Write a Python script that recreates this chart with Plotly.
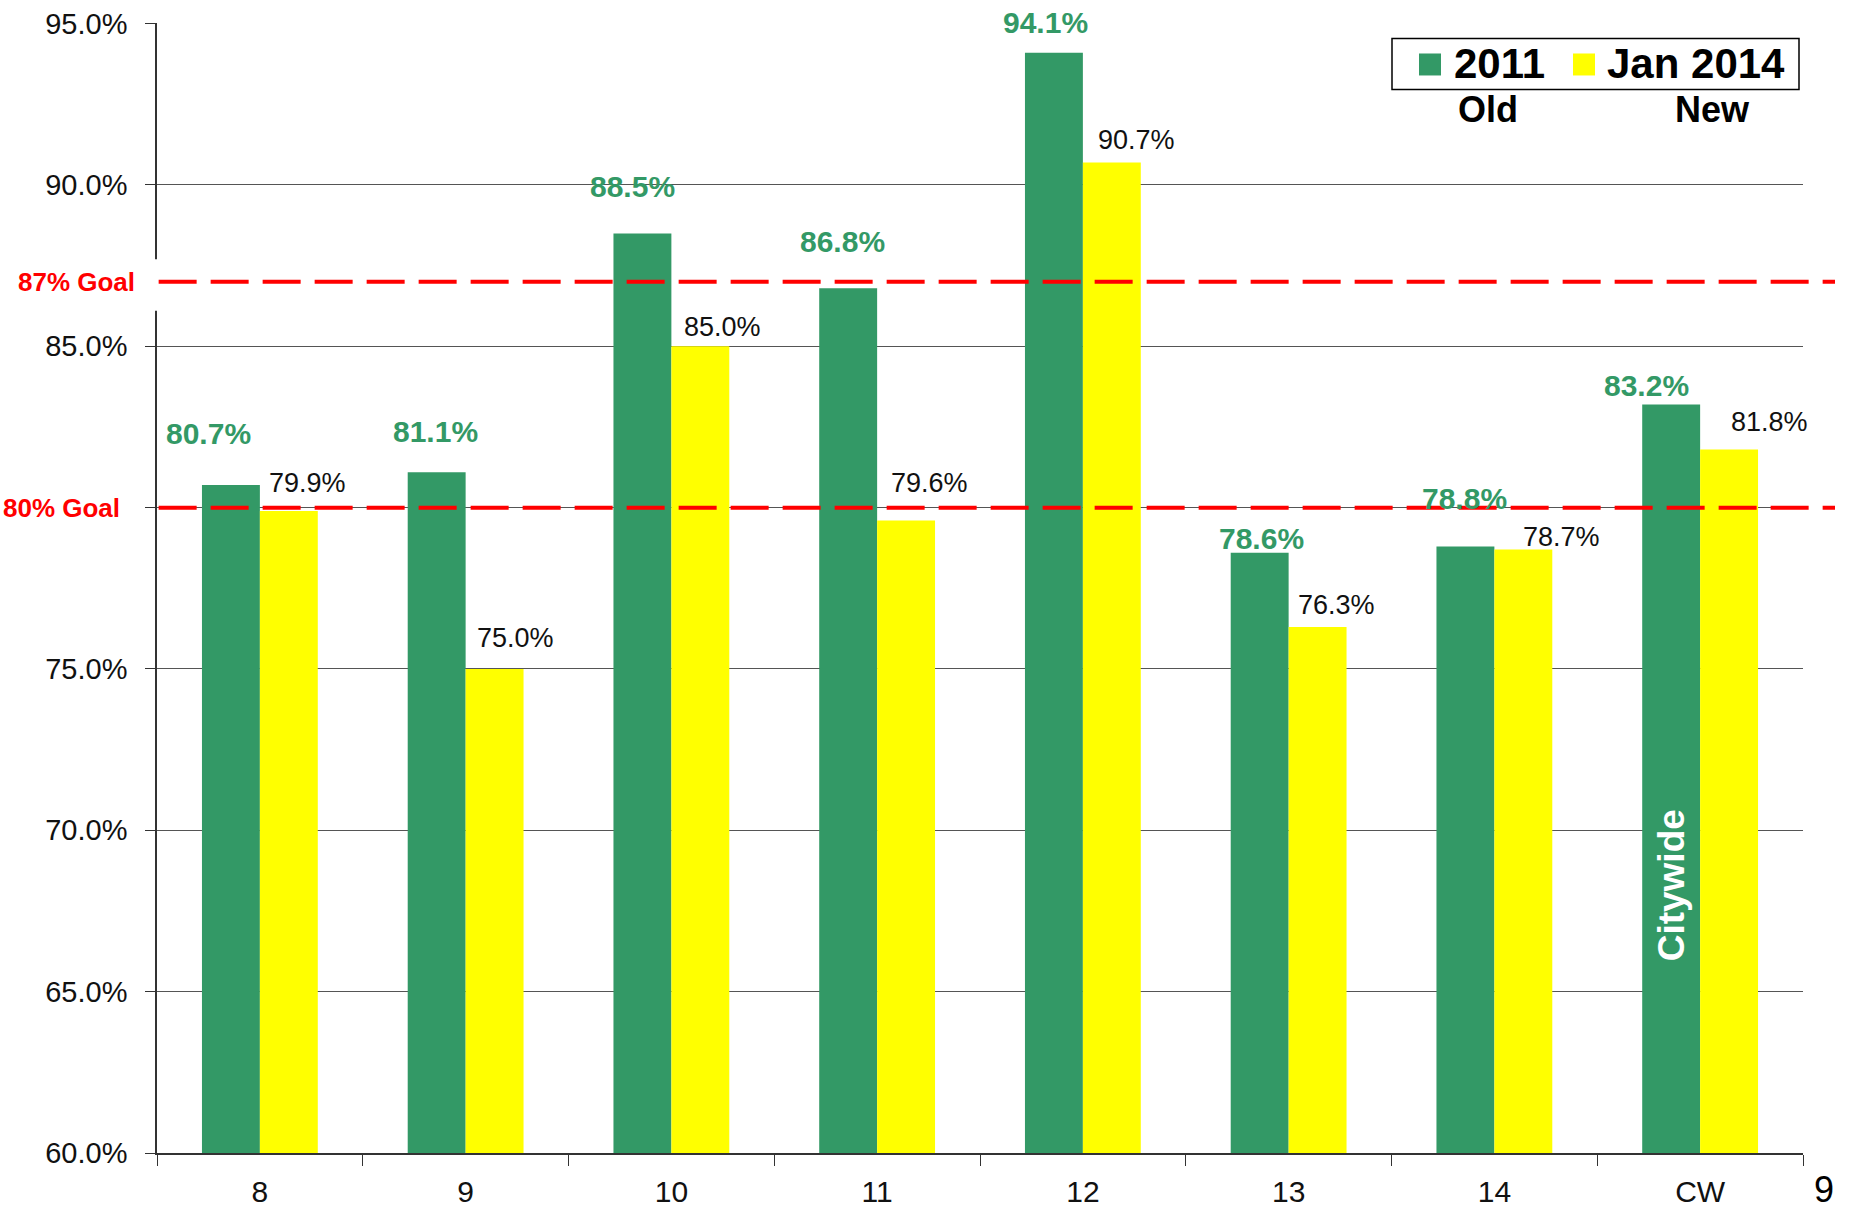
import plotly.graph_objects as go

categories = ["8", "9", "10", "11", "12", "13", "14", "CW"]
old_2011 = [80.7, 81.1, 88.5, 86.8, 94.1, 78.6, 78.8, 83.2]
new_jan2014 = [79.9, 75.0, 85.0, 79.6, 90.7, 76.3, 78.7, 81.8]
series_names = ["2011", "Jan 2014"]
series_captions = ["Old", "New"]
goals = [87, 80]
goal_labels = ["87% Goal", "80% Goal"]
y_ticks = [60, 65, 70, 75, 80, 85, 90, 95]
slide_number = "9"

# label placement (pixels, relative to category centre / bar top) - style only
green_dx = [-51, -30, -39, -35, -37, -27, -30, -54]
green_dy = [52, 41, 47, 47, 30, 14, 48, 19]
yellow_dx = [48, 50, 51, 52, 54, 48, 67, 69]
yellow_dy = [28, 31, 19, 38, 22, 22, 13, 28]

GREEN = "#339966"
YELLOW = "#FFFF00"
FONT = "Arial, Liberation Sans, sans-serif"

W, H = 1854, 1211
# plot area in page pixels
PX0, PX1, PY0, PY1 = 157, 1803, 22.5, 1153
ML, MR, MT, MB = PX0, W - PX1, PY0, H - PY1
PW, PH = PX1 - PX0, PY1 - PY0


def px(xp):
    return (xp - PX0) / PW


def py(yp):
    return 1 - (yp - PY0) / PH


fig = go.Figure()
fig.add_trace(go.Bar(x=categories, y=old_2011, name=series_names[0], showlegend=False,
                     marker=dict(color=GREEN, line=dict(width=0))))
fig.add_trace(go.Bar(x=categories, y=new_jan2014, name=series_names[1], showlegend=False,
                     marker=dict(color=YELLOW, line=dict(width=0))))

annotations = []
for i, (v, dx, dy) in enumerate(zip(old_2011, green_dx, green_dy)):
    annotations.append(dict(x=i, y=v, xref="x", yref="y", text=f"<b>{v:.1f}%</b>", showarrow=False,
                            xshift=dx, yshift=dy, font=dict(family=FONT, size=30, color=GREEN)))
for i, (v, dx, dy) in enumerate(zip(new_jan2014, yellow_dx, yellow_dy)):
    annotations.append(dict(x=i, y=v, xref="x", yref="y", text=f"{v:.1f}%", showarrow=False,
                            xshift=dx, yshift=dy, font=dict(family=FONT, size=27, color="#111111")))

# goal labels
goal_right_px = [137, 122]
for g, lab, rpx in zip(goals, goal_labels, goal_right_px):
    annotations.append(dict(x=px(rpx), y=g, xref="paper", yref="y", text=f"<b>{lab}</b>",
                            showarrow=False, xanchor="right", yanchor="middle",
                            font=dict(family=FONT, size=26, color="#FF0000")))

# Citywide label inside the CW bar
annotations.append(dict(x=len(categories) - 1, y=68.3, xref="x", yref="y", text="<b>Citywide</b>",
                        textangle=-90, showarrow=False, xshift=-29,
                        font=dict(family=FONT, size=37, color="white")))

shapes = []
# custom legend box
shapes.append(dict(type="rect", xref="paper", yref="paper", x0=px(1392), x1=px(1799), y0=py(89), y1=py(38),
                   fillcolor="white", line=dict(color="black", width=1.5), layer="above"))
legend_sq_x = [1419, 1573]
legend_txt_x = [1452, 1605]
caption_x = [1488, 1712]
for name, col, sx, tx, cap, cx in zip(series_names, [GREEN, YELLOW], legend_sq_x, legend_txt_x,
                                      series_captions, caption_x):
    shapes.append(dict(type="rect", xref="paper", yref="paper", x0=px(sx), x1=px(sx + 22),
                       y0=py(75), y1=py(53), fillcolor=col, line=dict(width=0), layer="above"))
    annotations.append(dict(x=px(tx), y=py(63), xref="paper", yref="paper", text=f"<b>{name}</b>",
                            xanchor="left", yanchor="middle", showarrow=False,
                            font=dict(family=FONT, size=42, color="black")))
    annotations.append(dict(x=px(cx), y=py(109), xref="paper", yref="paper", text=f"<b>{cap}</b>",
                            showarrow=False, xanchor="center", yanchor="middle",
                            font=dict(family=FONT, size=36, color="black")))

# slide number
annotations.append(dict(x=px(1824), y=py(1190), xref="paper", yref="paper", xanchor="center",
                        yanchor="middle", text=slide_number, showarrow=False,
                        font=dict(family=FONT, size=36, color="black")))

# white patch behind 87% goal label, covering axis line
shapes.append(dict(type="rect", xref="paper", yref="y", x0=-0.02, x1=0.0025, y0=86.1, y1=87.7,
                   fillcolor="white", line=dict(width=0), layer="above"))
for g in goals:
    shapes.append(dict(type="line", xref="paper", yref="y", x0=0.001, x1=px(1835), y0=g, y1=g,
                       line=dict(color="#FF0000", width=4, dash="38px,14px"), layer="above"))

fig.update_layout(
    width=W, height=H,
    margin=dict(l=ML, r=MR, t=MT, b=MB, autoexpand=False),
    paper_bgcolor="white", plot_bgcolor="white",
    barmode="group", bargap=0.437, bargroupgap=0,
    font=dict(family=FONT, color="#111111"),
    showlegend=False,
    annotations=annotations,
    shapes=shapes,
    xaxis=dict(type="category", range=[-0.5, len(categories) - 0.5], automargin=False,
               showline=True, linecolor="#333333", linewidth=2,
               ticks="outside", tickson="boundaries", ticklen=11, tickcolor="#333333", tickwidth=1,
               tickfont=dict(family=FONT, size=30, color="#111111"), showgrid=False,
               ticklabelstandoff=11),
    yaxis=dict(range=[60, 95.02], tickvals=y_ticks,
               ticktext=["" if t == 80 else f"{t:.1f}%" for t in y_ticks], automargin=False,
               showline=True, linecolor="#333333", linewidth=1.5,
               ticks="outside", ticklen=10, tickcolor="#333333",
               showgrid=True, gridcolor="#555555", gridwidth=1,
               tickfont=dict(family=FONT, size=29, color="#111111"), zeroline=False,
               ticklabelstandoff=12),
)
fig.write_html("out.html", config={"displayModeBar": False},
               post_script="document.body.style.margin='0';")
